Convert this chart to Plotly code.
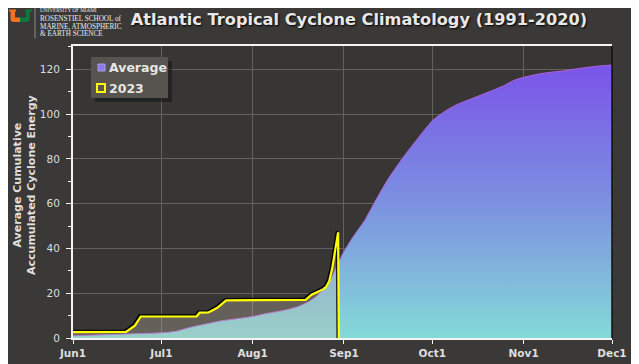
import plotly.graph_objects as go
import pandas as pd

# ---------------- data ----------------
avg_dates = ["2023-06-01", "2023-06-08", "2023-06-15", "2023-06-22", "2023-07-01", "2023-07-06",
             "2023-07-11", "2023-07-16", "2023-07-21", "2023-07-26", "2023-08-01", "2023-08-06",
             "2023-08-11", "2023-08-16", "2023-08-20", "2023-08-23", "2023-08-26", "2023-08-28",
             "2023-08-30", "2023-09-01", "2023-09-04", "2023-09-08", "2023-09-12", "2023-09-16",
             "2023-09-21", "2023-09-26", "2023-10-01", "2023-10-05", "2023-10-09", "2023-10-15",
             "2023-10-20", "2023-10-25", "2023-10-29", "2023-11-01", "2023-11-05", "2023-11-09",
             "2023-11-14", "2023-11-20", "2023-11-26", "2023-12-01"]
avg_values = [1.0, 1.3, 1.6, 1.9, 2.3, 3.0,
              4.8, 6.2, 7.6, 8.5, 9.6, 11.0,
              12.2, 13.8, 16.2, 19.0, 23.5, 27.5,
              33.5, 38.6, 45.0, 52.5, 62.0, 71.0,
              80.5, 89.0, 97.0, 101.0, 104.0, 107.2,
              109.8, 112.5, 115.2, 116.4, 117.6, 118.5,
              119.2, 120.4, 121.4, 121.9]

y2023_dates = ["2023-06-01 00:00", "2023-06-19 00:00", "2023-06-22 00:00", "2023-06-24 00:00",
               "2023-07-13 00:00", "2023-07-14 00:00", "2023-07-17 00:00", "2023-07-18 00:00",
               "2023-07-20 00:00", "2023-07-23 00:00", "2023-08-19 00:00", "2023-08-21 00:00",
               "2023-08-23 00:00", "2023-08-25 00:00", "2023-08-26 00:00", "2023-08-27 00:00",
               "2023-08-28 00:00", "2023-08-29 00:00", "2023-08-30 00:00", "2023-08-30 06:00"]
y2023_values = [2.6, 2.7, 5.5, 9.6, 9.7, 11.3,
                11.4, 12.0, 13.5, 16.8, 17.0, 19.3,
                20.6, 21.8, 23.0, 25.5, 31.0, 39.0,
                47.2, 0.0]

tick_dates = ["2023-06-01", "2023-07-01", "2023-08-01", "2023-09-01", "2023-10-01", "2023-11-01", "2023-12-01"]
tick_labels = ["Jun1", "Jul1", "Aug1", "Sep1", "Oct1", "Nov1", "Dec1"]

title_text = "Atlantic Tropical Cyclone Climatology (1991-2020)"
ytitle_text = "Average Cumulative<br>Accumulated Cyclone Energy"
legend_names = ["Average", "2023"]

# ---------------- geometry helpers ----------------
# The page places the figure 8px in from the top-left corner, so the figure is
# laid out in reference pixel coordinates shifted by OFF.
OFF = 8
W, H = 639 - OFF, 364 - OFF
ML, MR, MT, MB = 73 - OFF, 27, 46 - OFF, 26
PW, PH = W - ML - MR, H - MT - MB


def px(x):
    return (x - OFF - ML) / PW


def py(y):
    return (H - MB - (y - OFF)) / PH


BG = "#3a3937"
PLOT_BG = "#383635"
TXT = "#dedede"
FONT = "DejaVu Sans, Verdana, sans-serif"

fig = go.Figure()

# Average climatology (gradient area)
fig.add_trace(go.Scatter(
    x=pd.to_datetime(avg_dates), y=avg_values, mode="lines",
    line=dict(color="#b262e0", width=1, shape="spline", smoothing=0.6),
    fill="tozeroy",
    fillgradient=dict(type="vertical", start=0, stop=122,
                      colorscale=[[0, "#84dad8"], [0.5, "#7c90e0"], [1, "#7a54e8"]]),
    name=legend_names[0], showlegend=False, hoverinfo="skip"))

d23 = pd.to_datetime(y2023_dates, format="%Y-%m-%d %H:%M")
# 2023 translucent fill
fig.add_trace(go.Scatter(
    x=d23, y=y2023_values, mode="lines", line=dict(width=0, color="rgba(0,0,0,0)"),
    fill="tozeroy", fillcolor="rgba(200,186,172,0.32)",
    showlegend=False, hoverinfo="skip"))
# 2023 shadow
fig.add_trace(go.Scatter(
    x=d23 - pd.Timedelta(hours=9), y=[v + 0.5 if v > 0 else v for v in y2023_values],
    mode="lines", line=dict(color="rgba(0,0,0,0.85)", width=2.6),
    showlegend=False, hoverinfo="skip"))
# 2023 line
fig.add_trace(go.Scatter(
    x=d23, y=y2023_values, mode="lines", line=dict(color="#ffff00", width=2.2),
    name=legend_names[1], showlegend=False, hoverinfo="skip"))

shapes = []
annotations = []

# right edge of plot frame
shapes.append(dict(type="line", xref="paper", yref="paper", x0=1, x1=1, y0=0, y1=1,
                   line=dict(color="#111111", width=1.5), layer="above"))

# manual legend
lx0, ly0, lx1, ly1 = 91, 57, 168, 98
shapes.append(dict(type="rect", xref="paper", yref="paper",
                   x0=px(lx0 + 4), x1=px(lx1 + 4), y0=py(ly1 + 4), y1=py(ly0 + 4),
                   fillcolor="rgba(20,20,20,0.55)", line=dict(width=0), layer="above"))
shapes.append(dict(type="rect", xref="paper", yref="paper",
                   x0=px(lx0), x1=px(lx1), y0=py(ly1), y1=py(ly0),
                   fillcolor="#57534f", line=dict(width=0), layer="above"))
# legend swatches
shapes.append(dict(type="rect", xref="paper", yref="paper",
                   x0=px(98), x1=px(105), y0=py(71), y1=py(64),
                   fillcolor="#8b7ae8", line=dict(color="#a89cf0", width=1), layer="above"))
shapes.append(dict(type="rect", xref="paper", yref="paper",
                   x0=px(97), x1=px(105), y0=py(92), y1=py(84),
                   fillcolor="#5c5853", line=dict(color="#ffff00", width=2), layer="above"))
annotations.append(dict(xref="paper", yref="paper", x=px(107), y=py(67.5), text=legend_names[0],
                        showarrow=False, xanchor="left", yanchor="middle",
                        font=dict(family=FONT, size=12.5, color="#e6e6e6", weight="bold")))
annotations.append(dict(xref="paper", yref="paper", x=px(107), y=py(88.5), text=legend_names[1],
                        showarrow=False, xanchor="left", yanchor="middle",
                        font=dict(family=FONT, size=12.5, color="#e6e6e6", weight="bold")))

# y-axis title
annotations.append(dict(xref="paper", yref="paper", x=px(24), y=py(185), text=ytitle_text,
                        textangle=-90, showarrow=False, xanchor="center", yanchor="middle",
                        font=dict(family=FONT, size=11, color=TXT, weight="bold")))

# logo (kept inside the visible figure area)
LX, LY = 5, 3.5


def path_from(points):
    s = "M " + " L ".join(f"{px(a + LX):.5f},{py(b + LY):.5f}" for a, b in points) + " Z"
    return s

orange = [(4, 6), (11, 6), (11, 8), (10, 8), (10, 14), (15, 14), (15, 18.5), (8, 18.5),
          (6, 17.5), (5.5, 15), (5.5, 8), (4, 8)]
green = [(27, 6), (20, 6), (20, 8), (21, 8), (21, 14), (15, 14), (15, 18.5), (22, 18.5),
         (24, 17.5), (24.5, 15), (24.5, 8), (27, 8)]
shapes.append(dict(type="path", xref="paper", yref="paper", path=path_from(orange),
                   fillcolor="#f47321", line=dict(width=0)))
shapes.append(dict(type="path", xref="paper", yref="paper", path=path_from(green),
                   fillcolor="#0b7a3a", line=dict(width=0)))
shapes.append(dict(type="line", xref="paper", yref="paper", x0=px(30 + LX), x1=px(30 + LX),
                   y0=py(35 + LY), y1=py(4.5 + LY), line=dict(color="#8a8a8a", width=1)))
logo_lines = [("UNIVERSITY OF MIAMI", 7.0, 5.2), ("ROSENSTIEL SCHOOL of", 15.5, 7.2),
              ("MARINE, ATMOSPHERIC", 23.3, 7.2), ("&amp; EARTH SCIENCE", 30.8, 7.2)]
for txt, yy, sz in logo_lines:
    annotations.append(dict(xref="paper", yref="paper", x=px(33 + LX), y=py(yy + LY), text=txt,
                            showarrow=False, xanchor="left", yanchor="middle",
                            font=dict(family="Liberation Serif, DejaVu Serif, serif", size=sz, color="#ececec")))

fig.update_layout(
    width=W, height=H, autosize=False,
    margin=dict(l=ML, r=MR, t=MT, b=MB, autoexpand=False),
    paper_bgcolor=BG, plot_bgcolor=PLOT_BG,
    title=dict(text=title_text, x=(359 - OFF) / W, xanchor="center", xref="container",
               y=1 - (19 - OFF) / H, yanchor="middle", automargin=False,
               font=dict(family=FONT, size=16.2, color="#e8e8e8", weight="bold",
                         shadow="1px 1px 2px #000000")),
    shapes=shapes, annotations=annotations,
    showlegend=False,
    xaxis=dict(type="date", range=["2023-06-01", "2023-12-01"],
               tickvals=pd.to_datetime(tick_dates), ticktext=tick_labels,
               showgrid=True, gridcolor="#646260", gridwidth=1,
               showline=True, linecolor="#f4f4f4", linewidth=2, mirror=True,
               ticks="outside", ticklen=4, tickcolor="#f4f4f4", tickwidth=1,
               tickfont=dict(family=FONT, size=10.5, color=TXT, weight="bold"),
               zeroline=False, fixedrange=True, automargin=False),
    yaxis=dict(range=[0, 130.4], tickvals=[0, 20, 40, 60, 80, 100, 120],
               showgrid=True, gridcolor="#646260", gridwidth=1,
               showline=True, linecolor="#f4f4f4", linewidth=2,
               ticks="outside", ticklen=5, tickcolor="#f4f4f4", tickwidth=1,
               ticklabelstandoff=4,
               minor=dict(tickvals=[10, 30, 50, 70, 90, 110, 130], ticks="outside", ticklen=3,
                          tickcolor="#f4f4f4", showgrid=False),
               tickfont=dict(family=FONT, size=10.5, color=TXT),
               zeroline=False, fixedrange=True, automargin=False),
)

fig.write_html("out.html")
